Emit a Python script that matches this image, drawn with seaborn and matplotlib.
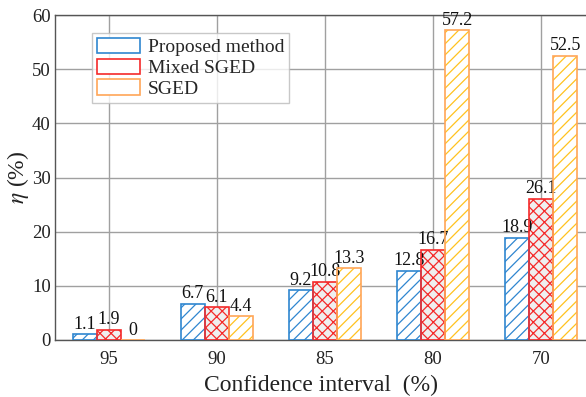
import matplotlib
matplotlib.use("Agg")
import matplotlib.pyplot as plt
import seaborn as sns
import pandas as pd

# Confidence intervals on the x axis and the three methods compared
intervals = ["95", "90", "85", "80", "70"]
methods = ["Proposed method", "Mixed SGED", "SGED"]
proposed = [1.1, 6.7, 9.2, 12.8, 18.9]
mixed_sged = [1.9, 6.1, 10.8, 16.7, 26.1]
sged = [0.0, 4.4, 13.3, 57.2, 52.5]

df = pd.DataFrame({
    "interval": intervals * 3,
    "method": [m for m in methods for _ in intervals],
    "eta": proposed + mixed_sged + sged,
})

sns.set_theme(style="white")
plt.rcParams["font.family"] = ["Liberation Serif", "DejaVu Serif"]
plt.rcParams["mathtext.fontset"] = "stix"
plt.rcParams["hatch.linewidth"] = 0.9

edge_colors = {"Proposed method": "#2f86d0", "Mixed SGED": "#f52a2a", "SGED": "#ffa657"}
hatch_colors = {"Proposed method": "#2f86d0", "Mixed SGED": "#f52a2a", "SGED": "#ffc21f"}
face_colors = {"Proposed method": "white", "Mixed SGED": "#efefef", "SGED": "white"}
hatches = {"Proposed method": "///", "Mixed SGED": "xxx", "SGED": "///"}

fig = plt.figure(figsize=(5.86, 3.97), dpi=100)
ax = fig.add_axes([55 / 586, 57 / 397, 1 - 55 / 586, 325 / 397])

sns.barplot(data=df, x="interval", y="eta", hue="method", order=intervals,
            hue_order=methods, width=0.675, gap=0, ax=ax, legend=False,
            err_kws={"linewidth": 0})

for container, m in zip(ax.containers, methods):
    for bar in container:
        bar.set_facecolor(face_colors[m])
        bar.set_hatch(hatches[m])
        bar.set_edgecolor(hatch_colors[m])
        bar.set_linewidth(0)
        # outline drawn on top with the border color
        x, y = bar.get_xy()
        ax.add_patch(plt.Rectangle((x, y), bar.get_width(), bar.get_height(),
                                   fill=False, edgecolor=edge_colors[m],
                                   linewidth=1.2, zorder=3))
    vals = df.loc[df["method"] == m, "eta"].tolist()
    ax.bar_label(container, labels=[f"{v:g}" for v in vals], padding=1,
                 fontsize=13, color="#111111")

ax.set_ylim(0, 60)
ax.set_xlim(-0.5, (586 - 55) / 108 - 0.5)
ax.set_yticks(range(0, 61, 10))
ax.grid(True, color="#a0a0a0", linewidth=1.0)
ax.set_axisbelow(True)
ax.tick_params(axis="both", length=0, labelsize=13.5, colors="#222222", pad=3)
ax.tick_params(axis="x", pad=8)

for side in ["left", "top", "bottom"]:
    ax.spines[side].set_color("#555555")
    ax.spines[side].set_linewidth(1.0)
ax.spines["right"].set_visible(False)

ax.set_xlabel("Confidence interval  (%)", fontsize=17, color="#222222", labelpad=5)
ax.set_ylabel(r"$\it{\eta}$ (%)", fontsize=17, color="#222222", labelpad=1)

handles = [plt.Rectangle((0, 0), 1, 1, facecolor="white", edgecolor=edge_colors[m],
                         linewidth=1.2) for m in methods]
leg = ax.legend(handles, methods, loc="upper left", bbox_to_anchor=(0.070, 0.945),
                fontsize=14, frameon=True, fancybox=False, borderpad=0.25,
                handlelength=2.2, handleheight=0.85, handletextpad=0.4,
                labelspacing=0.12, borderaxespad=0)
leg.get_frame().set_edgecolor("#bbbbbb")
leg.get_frame().set_linewidth(1.0)

fig.savefig("out.png", dpi=100)
